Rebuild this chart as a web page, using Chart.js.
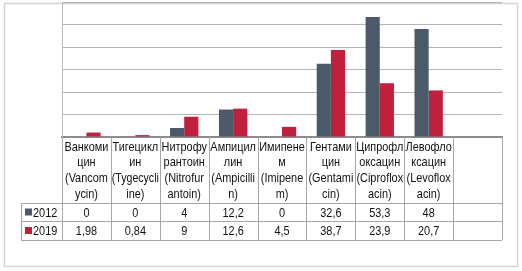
<!DOCTYPE html>
<html lang="ru">
  <head>
    <meta charset="utf-8" />
    <script src="https://cdn.jsdelivr.net/npm/chart.js@4.4.0/dist/chart.umd.min.js"></script>
    <style>
      body { margin: 0; background: #fff; }
    </style>
    <title>Chart</title>
  </head>
  <body>
    <canvas id="myChart" width="522" height="271"></canvas>
    <script>
      // categories, wrapped the way they appear in the data table
      const categories = [
        ["Ванкоми", "цин", "(Vancom", "ycin)"],
        ["Тигецикл", "ин", "(Tygecycli", "ine)"],
        ["Нитрофу", "рантоин", "(Nitrofur", "antoin)"],
        ["Ампицил", "лин", "(Ampicilli", "n)"],
        ["Имипене", "м", "(Imipene", "m)"],
        ["Гентами", "цин", "(Gentami", "cin)"],
        ["Ципрофл", "оксацин", "(Ciproflox", "acin)"],
        ["Левофло", "ксацин", "(Levoflox", "acin)"],
        [],
      ];
      const values2012 = [0, 0, 4, 12.2, 0, 32.6, 53.3, 48, null];
      const values2019 = [1.98, 0.84, 9, 12.6, 4.5, 38.7, 23.9, 20.7, null];
      const seriesNames = ["2012", "2019"];
      const colors = ["#4b5968", "#c0203e"];

      const FONT = '13px "Liberation Sans", "DejaVu Sans", sans-serif';

      function fmt(v) {
        return v === null ? "" : String(v).replace(".", ",");
      }

      // squeeze text a bit, the original used a narrow office font
      function narrowText(c, s, x, y) {
        const w = c.measureText(s).width;
        c.fillText(s, x, y, Math.min(w * 0.84, 47));
      }

      const dataTable = {
        id: "dataTable",
        beforeDraw(chart) {
          const c = chart.ctx;
          c.save();
          c.strokeStyle = "#d4d4d4";
          c.lineWidth = 1.5;
          c.strokeRect(4.5, 3.5, 513, 263);
          c.restore();
        },
        afterDraw(chart) {
          const c = chart.ctx;
          const x = chart.scales.x;
          const area = chart.chartArea;
          const n = categories.length;
          const colW = (area.right - area.left) / n;
          const top = area.bottom;
          const headBottom = top + 66;
          const row1 = headBottom + 18;
          const row2 = row1 + 19;
          const legendLeft = 21;

          c.save();
          c.strokeStyle = "#a6a6a6";
          c.lineWidth = 1;
          c.beginPath();
          for (let i = 0; i <= n; i++) {
            const px = Math.round(area.left + i * colW) + 0.5;
            c.moveTo(px, top);
            c.lineTo(px, row2);
          }
          [headBottom, row1, row2].forEach((y) => {
            c.moveTo(legendLeft, Math.round(y) + 0.5);
            c.lineTo(area.right, Math.round(y) + 0.5);
          });
          c.moveTo(legendLeft + 0.5, headBottom);
          c.lineTo(legendLeft + 0.5, row2);
          c.stroke();

          c.fillStyle = "#111";
          c.font = FONT;
          c.textAlign = "center";
          c.textBaseline = "middle";
          categories.forEach((lines, i) => {
            const cx = x.getPixelForValue(i);
            lines.forEach((ln, j) => {
              narrowText(c, ln, cx, top + 10 + j * 15.7);
            });
            narrowText(c, fmt(values2012[i]), cx, (headBottom + row1) / 2 + 1);
            narrowText(c, fmt(values2019[i]), cx, (row1 + row2) / 2 + 1);
          });

          // legend keys
          c.textAlign = "left";
          [[headBottom, row1], [row1, row2]].forEach(([a, b], k) => {
            const cy = (a + b) / 2;
            c.fillStyle = colors[k];
            c.fillRect(25, cy - 3.5, 7, 7);
            c.fillStyle = "#111";
            narrowText(c, seriesNames[k], 33, cy + 1);
          });
          c.restore();
        },
      };

      const ctx = document.getElementById("myChart").getContext("2d");
      const myChart = new Chart(ctx, {
        type: "bar",
        data: {
          labels: categories,
          datasets: [
            {
              label: seriesNames[0],
              data: values2012,
              backgroundColor: colors[0],
              barPercentage: 1,
              categoryPercentage: 0.58,
            },
            {
              label: seriesNames[1],
              data: values2019,
              backgroundColor: colors[1],
              barPercentage: 1,
              categoryPercentage: 0.58,
            },
          ],
        },
        options: {
          responsive: false,
          devicePixelRatio: 1,
          animation: false,
          layout: { padding: { left: 62, right: 20, top: 2, bottom: 134 } },
          plugins: {
            legend: { display: false },
            tooltip: { enabled: false },
          },
          scales: {
            x: {
              grid: { display: false, drawTicks: false },
              ticks: { display: false },
              border: { color: "#8c8c8c", width: 2 },
            },
            y: {
              min: 0,
              max: 60,
              ticks: { display: false, stepSize: 10 },
              grid: { color: "#b4b4b4", drawTicks: false },
              border: { color: "#bdbdbd", width: 1 },
            },
          },
        },
        plugins: [dataTable],
      });
    </script>
  </body>
</html>
